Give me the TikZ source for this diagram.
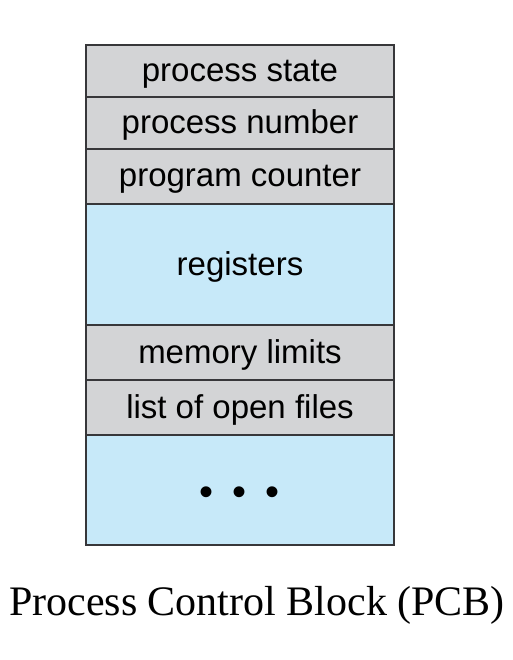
\documentclass[tikz,border=0pt]{standalone}
\usepackage{fontspec}
\setmainfont{Liberation Serif}
\newfontfamily\boxfont{Liberation Sans}
\usepackage{tikz}
\usetikzlibrary{positioning}
\definecolor{cField}{RGB}{211,212,214}
\definecolor{cBig}{RGB}{199,233,249}
\definecolor{cEdge}{RGB}{55,55,58}
\tikzset{
  field/.style={draw=cEdge, line width=1.6pt, fill=cField, outer sep=0pt,
                minimum width=308pt, inner sep=0pt, align=center,
                text height=26pt, text depth=5pt,
                font=\boxfont\fontsize{33}{36}\selectfont},
  bigfield/.style={field, fill=cBig},
}
\begin{document}
\begin{tikzpicture}[x=1pt,y=-1pt,node distance=0pt]
  \useasboundingbox (0,0) rectangle (512,660);
  \node[field, minimum height=52pt, anchor=north west] (state) at (86,45) {process state};
  \node[field, minimum height=52pt, below=of state] (number) {process number};
  \node[field, minimum height=55pt, below=of number] (counter) {program counter};
  \node[bigfield, minimum height=121pt, below=of counter] (regs) {registers};
  \node[field, minimum height=55pt, below=of regs] (mem) {memory limits};
  \node[field, minimum height=55pt, below=of mem] (files) {list of open files};
  \node[bigfield, minimum height=110pt, below=of files] (more)
    {\raisebox{-4.5pt}{\fontsize{40}{40}\selectfont
      \textbullet\hspace{19pt}\textbullet\hspace{19pt}\textbullet}};

  \node[font=\fontsize{42}{46}\selectfont, below=38pt of more, xshift=17pt] (caption)
    {Process Control Block (PCB)};
\end{tikzpicture}
\end{document}
